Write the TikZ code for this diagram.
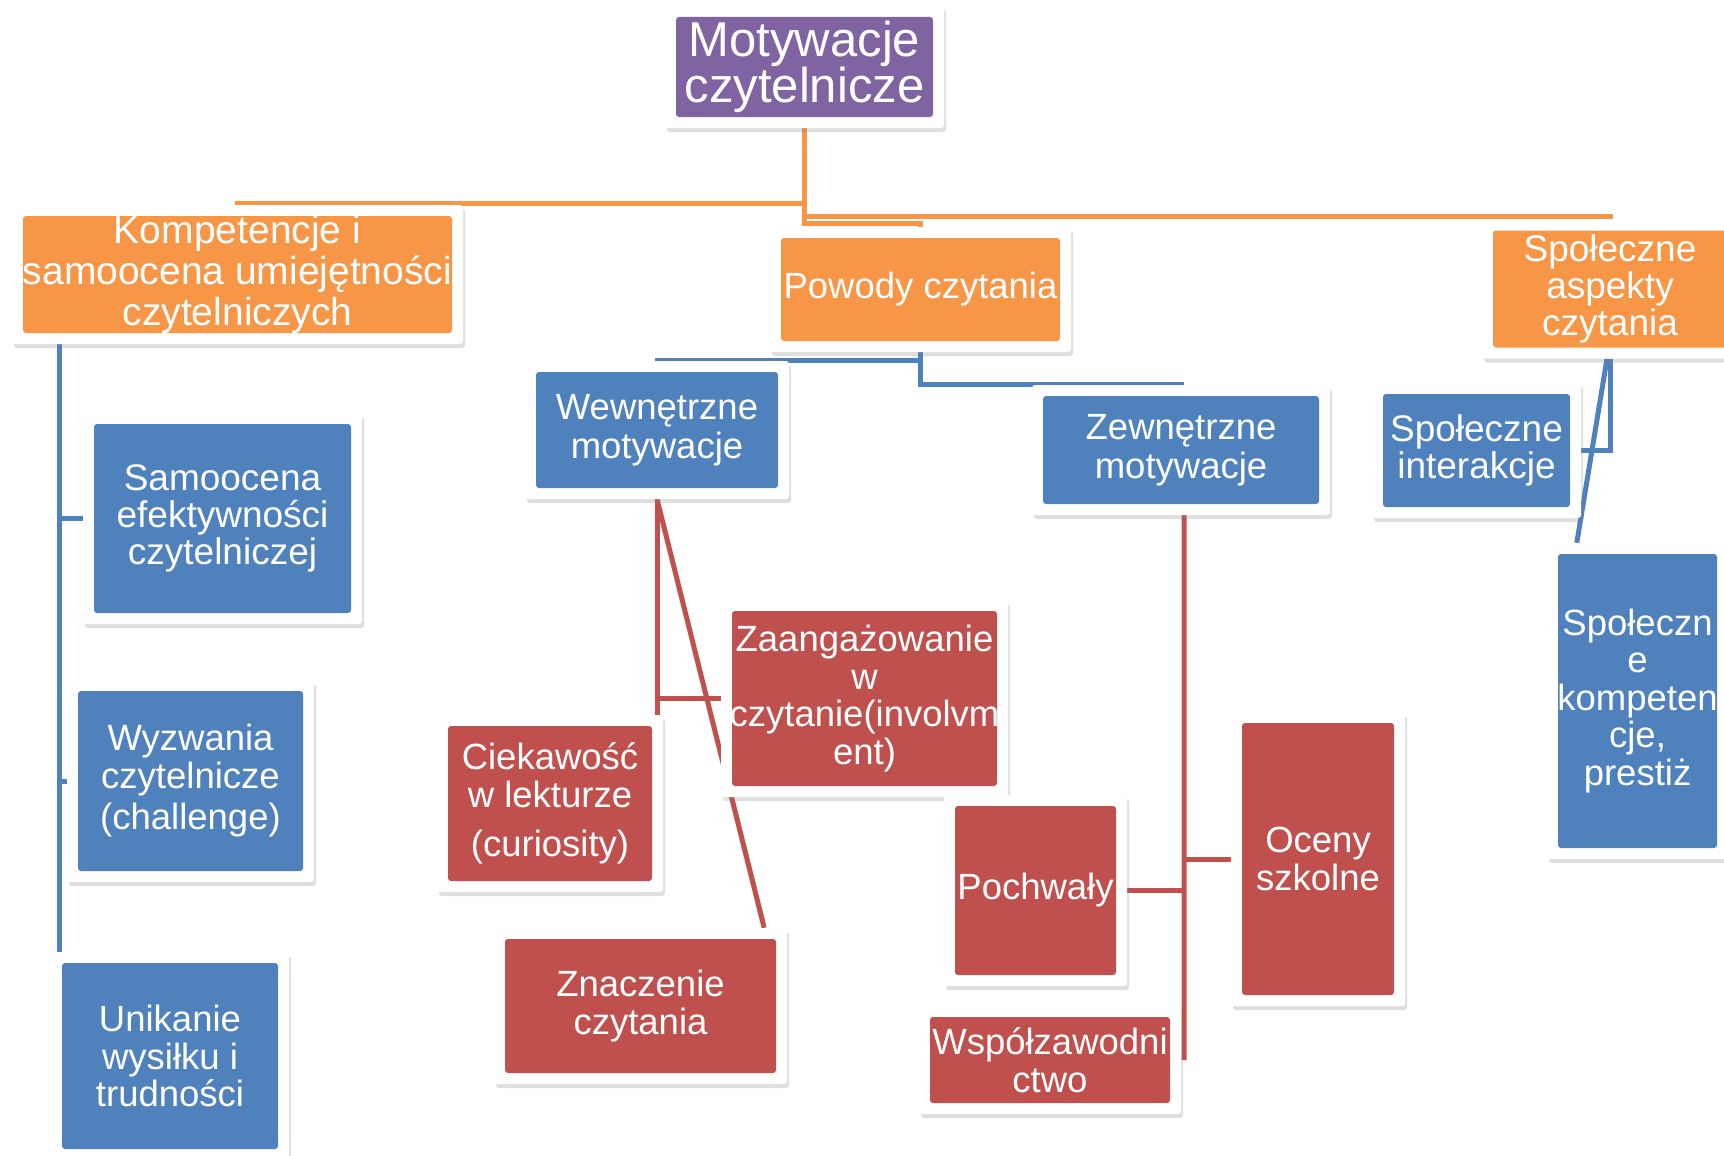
\documentclass[tikz,border=0pt]{standalone}
\usepackage{fontspec}
\setmainfont{Liberation Sans}
\usetikzlibrary{shadows,backgrounds}
\definecolor{ofpurple}{HTML}{8064A2}
\definecolor{oforange}{HTML}{F79646}
\definecolor{ofblue}{HTML}{4F81BD}
\definecolor{ofred}{HTML}{C0504D}

\begin{document}
\begin{tikzpicture}[x=1pt,y=-1pt,
  box/.style={rectangle,rounded corners=3pt,fill=white,inner sep=0pt,text=white,align=center,
    font=\fontsize{36.5}{37.5}\selectfont,
    drop shadow={shadow xshift=2pt,shadow yshift=-4pt,opacity=0.25},
    path picture={\fill[#1] ([shift={(11pt,11pt)}]path picture bounding box.south west)
      rectangle ([shift={(-11pt,-11pt)}]path picture bounding box.north east);}},
  sz/.style 2 args={minimum width=#1pt,minimum height=#2pt},
  conn/.style={line width=5pt,draw=#1}]
  \useasboundingbox (0,0) rectangle (1724,1156);
  \node[box=ofpurple,sz={279}{122},font=\fontsize{49}{46}\selectfont] (root) at (804.5,67) {Motywacje\\czytelnicze};
  \node[box=oforange,sz={451}{139},font=\fontsize{39}{41}\selectfont] (komp) at (237.5,274.5) {Kompetencje i\\samoocena umiejętności\\czytelniczych};
  \node[box=oforange,sz={301}{125}] (powody) at (920.5,289.5) {Powody czytania};
  \node[box=oforange,sz={256}{139},font=\fontsize{37}{37}\selectfont] (spol) at (1610,289) {Społeczne\\aspekty\\czytania};
  \node[box=ofblue,sz={264}{138},font=\fontsize{36.5}{38.5}\selectfont] (wew) at (657,430) {Wewnętrzne\\motywacje};
  \node[box=ofblue,sz={298}{130},font=\fontsize{36.5}{38.5}\selectfont] (zew) at (1181,450) {Zewnętrzne\\motywacje};
  \node[box=ofblue,sz={209}{135},font=\fontsize{37}{37}\selectfont] (inter) at (1476.5,450.5) {Społeczne\\interakcje};
  \node[box=ofblue,sz={181}{316}] (prest) at (1637.5,701) {Społeczn\\e\\kompeten\\cje,\\prestiż};
  \node[box=ofblue,sz={279}{211},font=\fontsize{37}{37}\selectfont] (samo) at (222.5,518.5) {Samoocena\\efektywności\\czytelniczej};
  \node[box=ofblue,sz={247}{202}] (wyzw) at (190.5,781) {Wyzwania\\czytelnicze\\[4pt](challenge)};
  \node[box=ofblue,sz={238}{208}] (unik) at (170,1056) {Unikanie\\wysiłku i\\trudności};
  \node[box=ofred,sz={287}{197}] (zaang) at (864.5,698.5) {Zaangażowanie\\w\\czytanie(involvm\\ent)};
  \node[box=ofred,sz={226}{177}] (ciek) at (550,803.5) {Ciekawość\\w lekturze\\[12pt](curiosity)};
  \node[box=ofred,sz={293}{156}] (znacz) at (640.5,1006) {Znaczenie\\czytania};
  \node[box=ofred,sz={183}{191}] (pochw) at (1035.5,890.5) {Pochwały};
  \node[box=ofred,sz={262}{108}] (wspol) at (1050,1060) {Współzawodni\\ctwo};
  \node[box=ofred,sz={174}{294}] (oceny) at (1318,859) {Oceny\\szkolne};
  \begin{scope}[on background layer]
    \fill[white] (0,0) rectangle (1724,1156);
    % orange level
    \draw[conn=oforange] (root.south) -- ++(0,75) -| (komp.north);
    \draw[conn=oforange] (root.south) -- ++(0,88) -| (spol.north);
    \draw[conn=oforange] (root.south) -- ++(0,95) -| (powody.north);
    % blue level
    \draw[conn=ofblue] (powody.south) -- ++(0,8) -| (wew.north);
    \draw[conn=ofblue] (powody.south) -- ++(0,32) -| (zew.north);
    \coordinate (kfoot) at ([xshift=48pt]komp.south west);
    \draw[conn=ofblue] (kfoot) -- (kfoot |- unik.north);
    \draw[conn=ofblue] (kfoot |- samo.west) -- (samo.west);
    \draw[conn=ofblue] (kfoot |- wyzw.west) -- (wyzw.west);
    \draw[conn=ofblue] (spol.south) |- (inter.east);
    \draw[conn=ofblue] ([xshift=-3pt]spol.south) -- ([xshift=30pt]prest.north west);
    % red level
    \draw[conn=ofred] (wew.south) -- (wew.south |- ciek.north);
    \draw[conn=ofred] (wew.south |- zaang.west) -- (zaang.west);
    \draw[conn=ofred] (wew.south) -- ([xshift=-23pt]znacz.north east);
    \draw[conn=ofred] ([xshift=3pt]zew.south) -- ([xshift=3pt]wspol.east);
    \draw[conn=ofred] ([xshift=3pt]zew.south |- pochw.east) -- (pochw.east);
    \draw[conn=ofred] ([xshift=3pt]zew.south |- oceny.west) -- (oceny.west);
  \end{scope}
\end{tikzpicture}
\end{document}
